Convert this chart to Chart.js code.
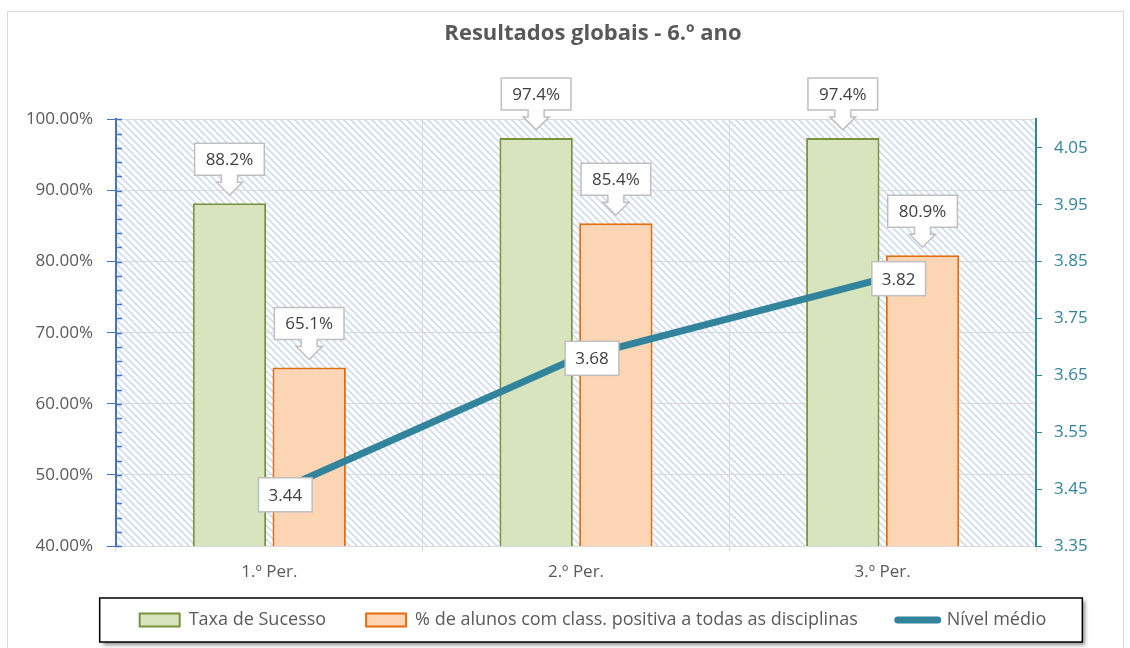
<!DOCTYPE html>
<html>
<head>
<meta charset="utf-8">
<script src="https://cdn.jsdelivr.net/npm/chart.js@4"></script>
<style>
  html, body { margin: 0; padding: 0; background: #fff; }
  #wrap { width: 1130px; height: 648px; }
</style>
</head>
<body>
<div id="wrap"><canvas id="chart" width="1130" height="648"></canvas></div>
<script>
const periods = ["1.º Per.", "2.º Per.", "3.º Per."];
const taxaSucesso = [88.2, 97.4, 97.4];
const positivaTodas = [65.1, 85.4, 80.9];
const nivelMedio = [3.44, 3.68, 3.82];
const nivelTicks = [3.35, 3.45, 3.55, 3.65, 3.75, 3.85, 3.95, 4.05];
const seriesNames = [
  "Taxa de Sucesso",
  "% de alunos com class. positiva a todas as disciplinas",
  "Nível médio",
];

const FONT = "'Open Sans', sans-serif";

// hatch pattern for the plot background
function makeHatch() {
  const c = document.createElement("canvas");
  c.width = 7;
  c.height = 7;
  const g = c.getContext("2d");
  g.strokeStyle = "#cfdcf0";
  g.lineWidth = 1.6;
  [-7, 0, 7].forEach((k) => {
    g.beginPath();
    g.moveTo(-2, -2 + k);
    g.lineTo(9, 9 + k);
    g.stroke();
  });
  return g.createPattern(c, "repeat");
}

const backgroundPlugin = {
  id: "background",
  afterLayout(chart) {
    // title and legend sit a bit right of centre in the original
    const dx = 28;
    [chart.titleBlock, chart.legend].forEach((b) => {
      if (!b) return;
      b.left += dx;
      b.right += dx;
      (b.legendHitBoxes || []).forEach((h) => (h.left += dx));
    });
  },
  beforeDraw(chart) {
    const { ctx, chartArea: a } = chart;
    ctx.save();
    ctx.fillStyle = "#fff";
    ctx.fillRect(0, 0, chart.width, chart.height);
    ctx.strokeStyle = "#d9d9d9";
    ctx.lineWidth = 1;
    ctx.strokeRect(7.5, 11.5, 1116, 660);
    ctx.fillStyle = makeHatch();
    ctx.fillRect(a.left, a.top, a.right - a.left, a.bottom - a.top);
    ctx.restore();
  },
  afterDraw(chart) {
    // minor ticks on the left axis, pointing inward
    const { ctx, chartArea: a } = chart;
    const y = chart.scales.y;
    ctx.save();
    ctx.strokeStyle = "#4472c4";
    ctx.lineWidth = 1.5;
    for (let v = y.min; v <= y.max; v += 2) {
      const py = Math.round(y.getPixelForValue(v)) + 0.5;
      ctx.beginPath();
      ctx.moveTo(a.left, py);
      ctx.lineTo(a.left + 6, py);
      ctx.stroke();
    }
    ctx.restore();
  },
};

// border + shadow around the legend
const legendBoxPlugin = {
  id: "legendBox",
  beforeDraw(chart) {
    const lg = chart.legend;
    if (!lg || !lg.legendHitBoxes.length) return;
    const boxes = lg.legendHitBoxes;
    const left = Math.min(...boxes.map((b) => b.left)) - 40;
    const right = Math.max(...boxes.map((b) => b.left + b.width)) + 36;
    const cy = boxes[0].top + boxes[0].height / 2;
    const top = cy - 22;
    const ctx = chart.ctx;
    ctx.save();
    ctx.shadowColor = "rgba(0,0,0,0.45)";
    ctx.shadowBlur = 4;
    ctx.shadowOffsetX = 3;
    ctx.shadowOffsetY = 3;
    ctx.fillStyle = "#fff";
    ctx.fillRect(left, top, right - left, 44);
    ctx.shadowColor = "transparent";
    ctx.strokeStyle = "#000";
    ctx.lineWidth = 1.5;
    ctx.strokeRect(left, top, right - left, 44);
    ctx.restore();
  },
};

// callout labels over bars, boxes on the line
const valueLabels = {
  id: "valueLabels",
  afterDatasetsDraw(chart) {
    const ctx = chart.ctx;
    ctx.save();
    ctx.font = "17px " + FONT;
    ctx.textAlign = "center";
    ctx.textBaseline = "middle";
    ctx.lineWidth = 1.5;
    chart.data.datasets.forEach((ds, di) => {
      const meta = chart.getDatasetMeta(di);
      meta.data.forEach((el, i) => {
        const v = ds.data[i];
        if (ds.type === "line") {
          const text = v.toFixed(2);
          const w = ctx.measureText(text).width + 20;
          const h = 34;
          const cx = el.x + 16;
          ctx.fillStyle = "#fff";
          ctx.strokeStyle = "#bfbfbf";
          ctx.fillRect(cx - w / 2, el.y - h / 2, w, h);
          ctx.strokeRect(cx - w / 2, el.y - h / 2, w, h);
          ctx.fillStyle = "#404040";
          ctx.fillText(text, cx, el.y + 1);
        } else {
          const text = v.toFixed(1) + "%";
          const w = ctx.measureText(text).width + 22;
          const x = el.x;
          const tip = el.y - 8;
          const yb = tip - 20;
          const yt = yb - 32;
          ctx.beginPath();
          ctx.moveTo(x - w / 2, yt);
          ctx.lineTo(x + w / 2, yt);
          ctx.lineTo(x + w / 2, yb);
          ctx.lineTo(x + 8, yb);
          ctx.lineTo(x + 8, yb + 7);
          ctx.lineTo(x + 13, yb + 7);
          ctx.lineTo(x, tip);
          ctx.lineTo(x - 13, yb + 7);
          ctx.lineTo(x - 8, yb + 7);
          ctx.lineTo(x - 8, yb);
          ctx.lineTo(x - w / 2, yb);
          ctx.closePath();
          ctx.fillStyle = "#fff";
          ctx.fill();
          ctx.strokeStyle = "#bfbfbf";
          ctx.stroke();
          ctx.fillStyle = "#404040";
          ctx.fillText(text, x, (yt + yb) / 2 + 1);
        }
      });
    });
    ctx.restore();
  },
};

const chart = new Chart(document.getElementById("chart"), {
  data: {
    labels: periods,
    datasets: [
      {
        type: "bar",
        label: seriesNames[0],
        data: taxaSucesso,
        backgroundColor: "#d7e4bd",
        borderColor: "#77933c",
        borderWidth: 2,
        yAxisID: "y",
        order: 1,
      },
      {
        type: "bar",
        label: seriesNames[1],
        data: positivaTodas,
        backgroundColor: "#fcd5b5",
        borderColor: "#e46c0a",
        borderWidth: 2,
        yAxisID: "y",
        order: 1,
      },
      {
        type: "line",
        label: seriesNames[2],
        data: nivelMedio,
        borderColor: "#31849b",
        backgroundColor: "#31849b",
        borderWidth: 7,
        pointRadius: 0,
        tension: 0,
        yAxisID: "y1",
        order: 0,
      },
    ],
  },
  options: {
    responsive: false,
    animation: false,
    layout: { padding: { left: 0, right: 0, top: 0, bottom: 9 } },
    datasets: {
      bar: { categoryPercentage: 0.52, barPercentage: 0.92 },
    },
    plugins: {
      title: {
        display: true,
        text: "Resultados globais - 6.º ano",
        color: "#595959",
        font: { family: FONT, size: 22, weight: "bold" },
        padding: { top: 21, bottom: 72 },
      },
      legend: {
        position: "bottom",
        labels: {
          color: "#595959",
          font: { family: FONT, size: 18 },
          usePointStyle: true,
          pointStyleWidth: 40,
          boxHeight: 13,
          padding: 40,
          sort: (a, b) => a.datasetIndex - b.datasetIndex,
          generateLabels(chart) {
            const items = Chart.defaults.plugins.legend.labels.generateLabels(chart);
            items.forEach((it) => {
              if (it.datasetIndex === 2) {
                it.pointStyle = "line";
                it.lineWidth = 7;
                it.lineCap = "round";
              } else {
                it.pointStyle = "rect";
                it.lineWidth = 2;
              }
            });
            return items;
          },
        },
      },
      tooltip: { enabled: false },
    },
    scales: {
      x: {
        grid: {
          offset: true,
          color: "#d9d9d9",
          tickLength: 5,
        },
        border: { color: "#d9d9d9" },
        ticks: {
          color: "#595959",
          font: { family: FONT, size: 17 },
          padding: 11,
        },
        afterFit(scale) {
          scale.height = 25;
          // let the tick labels spill below the short axis box
          scale._computeLabelArea = () => undefined;
        },
      },
      y: {
        position: "left",
        min: 40,
        max: 100,
        ticks: {
          stepSize: 10,
          color: "#595959",
          font: { family: FONT, size: 17 },
          padding: 14,
          callback: (v) => v.toFixed(2) + "%",
        },
        grid: {
          color: "#d9d9d9",
          tickColor: "#4472c4",
          tickLength: 9,
        },
        border: { color: "#4472c4", width: 2 },
        afterFit(scale) {
          scale.width = 116;
        },
      },
      y1: {
        position: "right",
        min: 3.35,
        max: 4.1,
        afterBuildTicks(scale) {
          scale.ticks = nivelTicks.map((v) => ({ value: v }));
        },
        ticks: {
          color: "#31849b",
          font: { family: FONT, size: 17 },
          padding: 12,
          callback: (v) => v.toFixed(2),
        },
        grid: {
          drawOnChartArea: false,
          tickColor: "#31849b",
          tickLength: 6,
        },
        border: { color: "#31849b", width: 2 },
        afterFit(scale) {
          scale.width = 94;
        },
      },
    },
  },
  plugins: [backgroundPlugin, legendBoxPlugin, valueLabels],
});
</script>
</body>
</html>
